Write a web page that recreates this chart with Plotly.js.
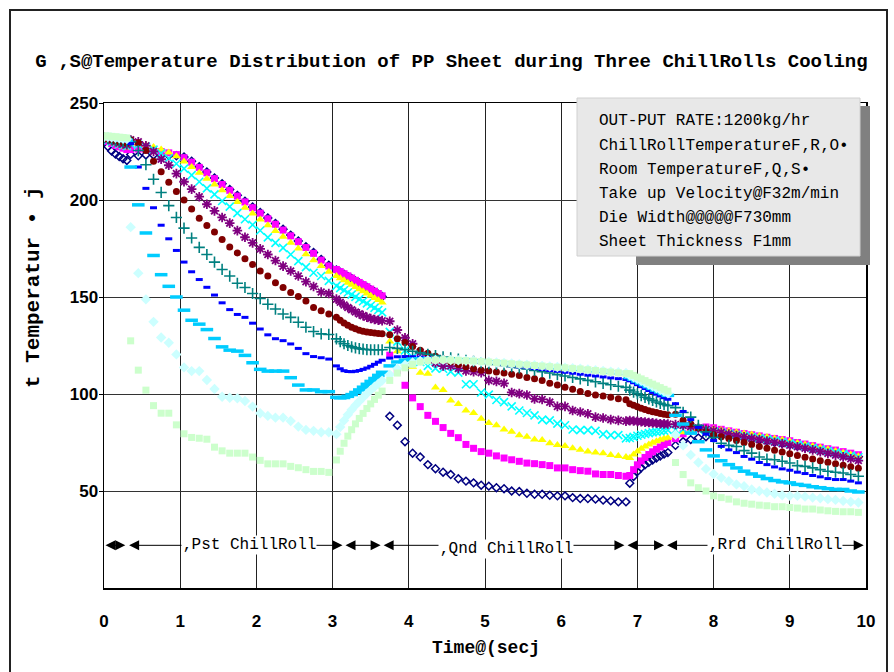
<!DOCTYPE html>
<html><head><meta charset="utf-8">
<script src="https://cdn.plot.ly/plotly-3.0.1.min.js"></script>
<style>html,body{margin:0;padding:0;background:#fff}#chart{width:894px;height:672px}</style>
</head><body><div id="chart"></div>
<script>
// time (s): air gap, 1st roll, gap, 2nd roll, gap, 3rd roll
const time = [
0,0.05,0.1,0.15,0.2,0.25,0.3,
0.35,0.45,0.55,0.65,0.75,0.85,0.95,1.05,1.15,1.25,1.35,1.45,1.55,1.65,1.75,1.85,1.95,2.05,2.15,2.25,2.35,2.45,2.55,2.65,2.75,2.85,2.95,
3.05,3.1,3.15,3.2,3.25,3.3,3.35,3.4,3.45,3.5,3.55,3.6,3.65,
3.75,3.85,3.95,4.05,4.15,4.25,4.35,4.45,4.55,4.65,4.75,4.85,4.95,5.05,5.15,5.25,5.35,5.45,5.55,5.65,5.75,5.85,5.95,6.05,6.15,6.25,6.35,6.45,6.55,6.65,6.75,6.85,
6.9,6.95,7,7.05,7.1,7.15,7.2,7.25,7.3,7.35,7.4,
7.5,7.6,7.7,7.8,7.9,8,8.1,8.2,8.3,8.4,8.5,8.6,8.7,8.8,8.9,9,9.1,9.2,9.3,9.4,9.5,9.6,9.7,9.8,9.9
];
const navy = [
230.5,227.5,225.3,223.7,222.4,221.3,220.4,
223.5,222.8,223.2,223.2,223.2,223,222.8,222.2,220,217.2,214.4,211.4,208.4,205.4,202.4,199.4,196.4,193.6,190.7,187.9,184.9,181.9,178.9,175.9,172.9,169.4,166.4,
163.9,162.8,161.7,160.6,159.5,158.3,157.2,156.1,155,153.8,152.7,151.5,150.3,
88.5,83.9,75.4,69.5,67.5,63.6,61.5,59.7,58.5,56.3,55.1,54.2,53,52.5,51.7,51.2,50,49.7,48.8,48.3,48.3,47.8,47.5,47.5,46.6,46.1,46.1,45.8,45.3,44.9,44.4,44.4,
54,57.5,60,62,63.5,64.8,66,67,68,69,69.8,
73.5,75.5,76.5,77.4,78,78.2,78.2,78,77.7,77.3,76.8,76.3,75.7,75.1,74.5,73.9,73.2,72.5,71.8,71.1,70.4,69.7,69,68.3,67.6
];
const magenta = [
231.4,230.2,229.1,228.2,227.4,226.7,226,
226,226.3,226,225.6,225,224.3,223.4,221.8,219.5,216.8,214,211,208,205,202,199,196,193.2,190.3,187.5,184.5,181.5,178.5,175.5,172.5,169,166,
164.2,163.1,162,160.9,159.8,158.6,157.5,156.4,155.3,154.1,153,151.8,150.6,
120,112,104.5,98,93.5,89,85.9,82.7,79.7,77.5,74,72,70.3,69.5,68.1,67,66.1,65.3,64.4,64.1,63.6,63.1,61.9,61.9,61,60.5,60.2,58.8,58.5,58.5,58,57.6,
58,61,63.5,65.5,67.3,68.8,70.2,71.5,72.7,73.9,75,
77,79.5,81.2,82.3,83,82.6,81.8,81,80.3,79.6,79,78.4,77.7,77.1,76.5,75.9,75,74.2,73.4,72.6,71.8,71.1,70.3,69.5,68.7
];
const yellow = [
231.6,230.6,229.7,228.9,228.2,227.6,227,
229.5,229,228.3,227.3,226,224.5,222.5,219.8,217,214,211,208,205,202,199,196,193,190,187,184,181,178,175,172,169,166,163,
160.8,159.7,158.6,157.4,156.3,155.2,154,152.9,151.8,150.6,149.5,148.4,147.2,
127,122,117.5,114,111,110.5,103.4,102,96.6,94.9,91.5,90.2,87.3,85.1,83.9,81.7,80.5,78.8,78,76.6,76.3,74.6,73.7,73.2,72,71.2,70.3,69.8,69.5,68.6,68.1,67.5,
67,68.8,70.4,71.8,73,74,74.9,75.7,76.4,77,77.5,
78.5,80.3,81.4,82,82.2,82,81.5,80.9,80.3,79.7,79.1,78.5,77.8,77.1,76.4,75.6,74.8,74,73.2,72.4,71.5,70.6,69.7,68.8,67.9
];
const cyan = [
231.8,231,230.2,229.5,228.9,228.3,227.8,
229,228.5,227.5,226,224,221.5,218.7,216.2,212.8,209.4,206,202.9,199.5,196.6,193.2,190.1,187.2,184.3,180.7,177.9,175.3,171.9,168.5,165.4,162.5,160.8,158.3,
155.7,154.6,153.5,152.3,151.2,150.1,148.9,147.8,146.7,145.5,144.4,143.3,142.1,
132,127,122.5,119,116.5,114.5,113.2,113,111.5,111,105,105,100.8,99.7,96.9,95.8,93.6,91.5,90.2,89,86.8,86.4,84.7,83.9,81.7,81.4,81.4,81,79.3,78.8,78.8,77.1,
77.3,77.9,78.5,79,79.4,79.8,80.2,80.5,80.8,81.1,81.4,
81.5,81.8,81.9,81.7,81.3,80.8,80.2,79.6,79,78.4,77.8,77.2,76.6,76,75.3,74.6,73.8,73,72.2,71.4,70.6,69.8,69,68.2,67.4
];
const purple = [
232,231.3,230.6,230,229.4,228.9,228.5,
231,230,228,225,221,217.9,213.6,209.4,205.6,201.7,197.8,194.4,191,188.1,184.2,180.8,177.9,174.8,171.9,168.8,165.9,163.4,160.8,157.9,155.4,152.6,151.8,
148.9,147.3,145.9,144.6,143.4,142.3,141.3,140.4,139.6,138.9,138.4,138,137.8,
137.5,133,129,125.9,121.5,118.5,116,114.4,114.4,113.2,111.9,111.5,111,107,106.5,105.5,100.8,100.2,99.5,97.5,97.2,95.8,93.6,93.6,91.5,90.7,89.8,88.1,87.6,86.8,86.4,86,
86.3,86.1,85.9,85.7,85.5,85.3,85.1,84.9,84.7,84.6,84.5,
84.3,83.8,83.2,82.5,81.8,81,80.2,79.4,78.6,77.9,77.2,76.5,75.8,75.1,74.4,73.6,72.8,72,71.2,70.3,69.4,68.5,67.6,66.6,65.7
];
const maroon = [
232,231.5,231,230.5,230,229.6,229.2,
231,229.5,225.5,220,214.5,209.2,204.4,200,195.4,190.6,186.9,183.5,179.6,175.8,172.7,169.7,166.8,163.4,160.8,157.4,154.9,152.3,150.3,148,144.6,142.9,141.2,
139.5,138,136.6,135.4,134.4,133.6,132.9,132.4,132,131.7,131.4,131.2,131,
130.5,128.5,126.5,124.5,122.5,121,119.5,118,116.5,115.2,114,113,112.3,111.8,111.3,110.8,110.2,109.5,108.5,107.8,107,105.5,104.7,103.5,102.5,101.3,100.3,99.5,99,98.3,97.6,97,
95,94.2,93.4,92.7,92,91.4,90.9,90.4,90,89.6,89.3,
89.5,86.5,84.5,82.5,80.5,79,78,77,76,75,74,73,72,71,70.1,69.2,68.3,67.4,66.5,65.6,64.8,64,63.3,62.5,61.7
];
const teal = [
232.2,231.8,231.3,230.9,230.5,230.2,229.9,
230,225.5,218.2,210.7,203.9,197.1,191,185.5,180.4,175.6,171.9,168,164.2,160.8,157.1,154.9,151.8,149.2,146.3,143.8,141.2,139.5,137,134.4,132.2,131,130.7,
128.4,127,125.9,125,124.3,123.8,123.4,123.1,122.9,122.8,122.8,122.8,122.8,
124,123.5,122.8,122,121.2,120.5,119.8,119.2,118.6,118,117.4,116.8,116.2,115.7,115.2,114.7,114.1,113.5,112.9,112.2,111.5,110.8,110,109.3,108.5,107.8,107,106.3,105.5,104.8,104,103.4,
102,101,100.1,99.2,98.3,97.5,96.7,95.9,95.2,94.6,94,
93,90.5,88.1,83.9,80.5,77.6,74.6,73.5,72.9,70.8,69.5,67.5,66.4,66.1,65.3,64.4,63.1,62.7,61.9,61,60.2,59.7,59.3,58.5,57.6
];
const blue = [
232.3,232,231.6,231.2,230.9,230.6,230.3,
229,217,206,196,187,180,174,168,163,159,155,151,147,143.5,141,139.5,136.5,133.5,130.5,128.5,127.5,125.8,123.5,120.8,119.3,118.7,118,
114.5,113,112,111.6,111.5,111.7,112.1,112.7,113.4,114.3,115.3,116.4,117.4,
118.5,119.2,119.3,119.2,119,118.7,118.4,118.1,117.8,117.5,117.2,116.8,116.3,115.9,115.4,115,114.5,114,113.6,113.1,112.6,112.1,111.7,111.2,110.7,110.2,109.7,109.3,108.8,108.3,107.9,107.5,
106.8,105.8,104.8,103.8,102.8,101.8,100.8,99.9,99,98.1,97.3,
95,91,86.8,82.8,79.3,76,73,71.2,69.8,67.8,66.4,64.7,63.6,62.4,61.4,60.7,59.7,59,58,57.3,56.4,55.9,55.9,55.1,54.2
];
const skyblue = [
232.5,232.3,232,231.7,231.4,231.1,230.8,
217,197.5,183,171.4,161.5,155.5,150,143.2,138,136,133.2,128.6,124.3,122.6,122.1,119.9,116.1,112.7,111.8,111.8,111.8,108.4,104.6,102.1,102.1,101.2,101.2,
98.3,98,98.2,98.8,99.7,100.8,102.1,103.5,105,106.5,108,109.6,111.2,
114.5,116.5,117.5,118,118.2,118.2,118.1,118,117.9,117.7,117.5,117.2,116.9,116.6,116.3,116,115.7,115.4,115.1,114.7,114.4,114.1,113.7,113.4,113.1,112.7,112.4,112,111.7,111.3,111,110.6,
108.5,107.6,106.7,105.7,104.8,103.8,102.9,102,101.1,100.2,99.3,
89,84.5,79.8,75.4,71.2,68.1,65.6,63.6,61.9,60.2,58.8,57.6,56.4,55.4,54.7,54.2,53.4,52.9,52.2,51.7,51.2,50.8,50.8,50,49.5
];
const lightcyan = [
232.5,232.5,232.3,232,231.8,231.6,231.4,
186,162.3,148.8,137.2,129.1,126.4,120.4,113.7,111.8,111.8,107.2,102.6,98.6,98.1,97.8,96.4,93.5,90.1,88.7,87.8,87.8,86.1,83.2,81.5,81,80.3,80.3,
79.3,83,86.3,89.3,91.9,94.2,96.3,98.3,100.2,102,103.7,105.3,106.9,
110,113,115,116.3,117,117.4,117.6,117.6,117.5,117.4,117.2,117,116.7,116.5,116.2,116,115.7,115.4,115.1,114.8,114.5,114.2,113.9,113.6,113.3,113,112.6,112.3,111.9,111.5,111.2,110.8,
109.5,108.6,107.7,106.8,105.9,104.9,104,103.1,102.2,101.3,100.4,
79,73.5,68.6,64.7,61.4,58.8,56.8,55.1,53.4,52.5,50.8,50,49.2,48.6,47.8,47.5,47.5,47.1,46.6,46.3,45.8,45.4,44.9,44.4,44.1
];
const lightgreen = [
233,233,232.8,232.6,232.4,232.2,232,
127.4,112.3,102,94,90.1,90.1,84.1,79.5,77.6,77.2,76.7,72.6,70.7,69.5,69.5,69.5,67.5,65.8,64,64,64,62.7,62,61,60.1,60.1,59.6,
66,70.5,74.6,78.3,81.6,84.6,87.4,90,92.5,94.9,97.2,99.4,101.5,
107,110.8,113.5,115.3,116.5,117.2,117.5,117.6,117.5,117.4,117.2,117,116.7,116.5,116.2,115.9,115.6,115.3,115,114.7,114.4,114.1,113.8,113.5,113.2,112.9,112.5,112.1,111.7,111.3,110.9,110.5,
110.5,109.6,108.7,107.8,106.9,106,105.1,104.2,103.3,102.4,101.5,
64.7,58.5,54.2,51.7,50,47.5,46.6,45.8,44.4,43.7,43.2,42.7,42.4,41.9,41.9,41.5,41.2,40.7,40.7,40.2,39.8,39.5,39.3,39.3,39
];

const seriesData = [navy, magenta, yellow, cyan, purple, maroon, teal, blue, skyblue, lightcyan, lightgreen];
const seriesColors = ['#000080','#FF00FF','#FFFF00','#00FFFF','#800080','#800000','#008080','#0000FF','#00CCFF','#CCFFFF','#CCFFCC'];
const seriesSymbols = ['diamond-open','square','triangle-up','x-thin-open','asterisk-open','circle','cross-thin-open','line-ew-open','line-ew-open','diamond','square'];
const seriesSizes = [6,7,8,8,8,7,8,5,9,8,7];
const seriesLineW = [1.5,0,0,1.6,1.8,0,1.6,3,3.5,0,0];

// axis / annotation texts
const xTickVals = [0,1,2,3,4,5,6,7,8,9,10];
const yTickVals = [50,100,150,200,250];
const titleText = 'G ‚S@Temperature Distribution of PP Sheet during Three ChillRolls Cooling';
const boxLines = ['OUT-PUT RATE:1200kg/hr','ChillRollTemperatureF‚R‚O•','Room TemperatureF‚Q‚S•','Take up Velocity@F32m/min','Die Width@@@@@F730mm','Sheet Thickness F1mm'];
const arrowStart = [0, 0.31, 3.15, 3.65, 6.85, 7.37];
const arrowEnd = [0.28, 3.13, 3.63, 6.83, 7.35, 9.97];
const rollLabels = ['‚Pst ChillRoll','‚Qnd ChillRoll','‚Rrd ChillRoll'];
const rollLabelX = [1.9, 5.28, 8.8];
const arrowLevel = 22;

const traces = seriesData.map((ys, i) => ({
  type: 'scatter', mode: 'markers', x: time, y: ys,
  marker: {symbol: seriesSymbols[i], size: seriesSizes[i], color: seriesColors[i],
           line: {color: seriesColors[i], width: seriesLineW[i]}},
  hoverinfo: 'skip', showlegend: false
}));

const mono = 'Liberation Mono, Courier New, monospace';
const sans = 'Liberation Sans, Arial, sans-serif';
const px2x = p => (p - 104) / 762;
const px2y = p => (588 - p) / 485;

const annotations = [];
arrowStart.forEach((s, i) => {
  annotations.push({xref:'x', yref:'y', axref:'x', ayref:'y', x: arrowEnd[i], y: arrowLevel, ax: s, ay: arrowLevel,
    text:'', showarrow:true, arrowside:'end+start', arrowhead:2, startarrowhead:2, arrowsize:2, startarrowsize:2,
    arrowwidth:1, arrowcolor:'#000', standoff:0, startstandoff:0});
});
rollLabels.forEach((t, i) => {
  annotations.push({xref:'x', yref:'y', x: rollLabelX[i], y: arrowLevel, text: t, showarrow:false,
    bgcolor:'#fff', borderpad:0, yshift: i === 1 ? -4 : 0, font:{family:mono, size:16, color:'#000'}});
});
boxLines.forEach((t, i) => {
  const ys = [121,146,170,194,218,242];
  annotations.push({xref:'paper', yref:'paper', x: px2x(597), y: px2y(ys[i]), xanchor:'left', yanchor:'middle',
    text: t, showarrow:false, font:{family:mono, size:16, color:'#000'}});
});
annotations.push({xref:'paper', yref:'paper', x: px2x(486), y: px2y(648), xanchor:'center', yanchor:'middle',
  text:'Time@(secj', showarrow:false, font:{family:mono, size:18, color:'#000', weight:'bold'}});
annotations.push({xref:'paper', yref:'paper', x: px2x(33), y: px2y(287), xanchor:'center', yanchor:'middle',
  text:'t Temperatur • j', textangle:-90, showarrow:false, font:{family:mono, size:21, color:'#000', weight:'bold'}});

const layout = {
  width: 894, height: 672, margin: {l:104, r:28, t:103, b:84},
  paper_bgcolor:'#fff', plot_bgcolor:'#fff', showlegend:false,
  title: {text: titleText, x: 0.505, xanchor:'center', y: 1 - 60/672, yanchor:'middle',
          font:{family:mono, size:19, color:'#000', weight:'bold'}},
  xaxis: {range:[0,10], tickvals: xTickVals, showgrid:true, gridcolor:'#222', gridwidth:1, zeroline:false,
          showline:true, linecolor:'#000', linewidth:1.5, mirror:true, ticks:'outside', ticklen:17,
          tickcolor:'rgba(0,0,0,0)', tickfont:{family:sans, size:17, color:'#000', weight:'bold'}, fixedrange:true},
  yaxis: {range:[0,250], tickvals: yTickVals, showgrid:true, gridcolor:'#333', gridwidth:1, zeroline:false,
          showline:true, linecolor:'#000', linewidth:1.5, mirror:true, ticks:'outside', ticklen:4, tickcolor:'#000',
          ticklabelstandoff:-3,
          tickfont:{family:sans, size:17, color:'#000', weight:'bold'}, fixedrange:true},
  shapes: [
    {type:'rect', xref:'paper', yref:'paper', x0: px2x(10), x1: px2x(887), y0: px2y(700), y1: px2y(10),
     line:{color:'#222', width:2}, fillcolor:'rgba(0,0,0,0)', layer:'above'},
    {type:'rect', xref:'paper', yref:'paper', x0: px2x(636), x1: px2x(870), y0: px2y(265), y1: px2y(106),
     line:{width:0}, fillcolor:'#808080', layer:'above'},
    {type:'rect', xref:'paper', yref:'paper', x0: px2x(577), x1: px2x(860), y0: px2y(256), y1: px2y(98),
     line:{color:'#d0d0d0', width:1}, fillcolor:'#e8e8e8', layer:'above'}
  ],
  annotations: annotations
};

Plotly.newPlot('chart', traces, layout, {displayModeBar:false, staticPlot:true});
</script>
</body></html>
